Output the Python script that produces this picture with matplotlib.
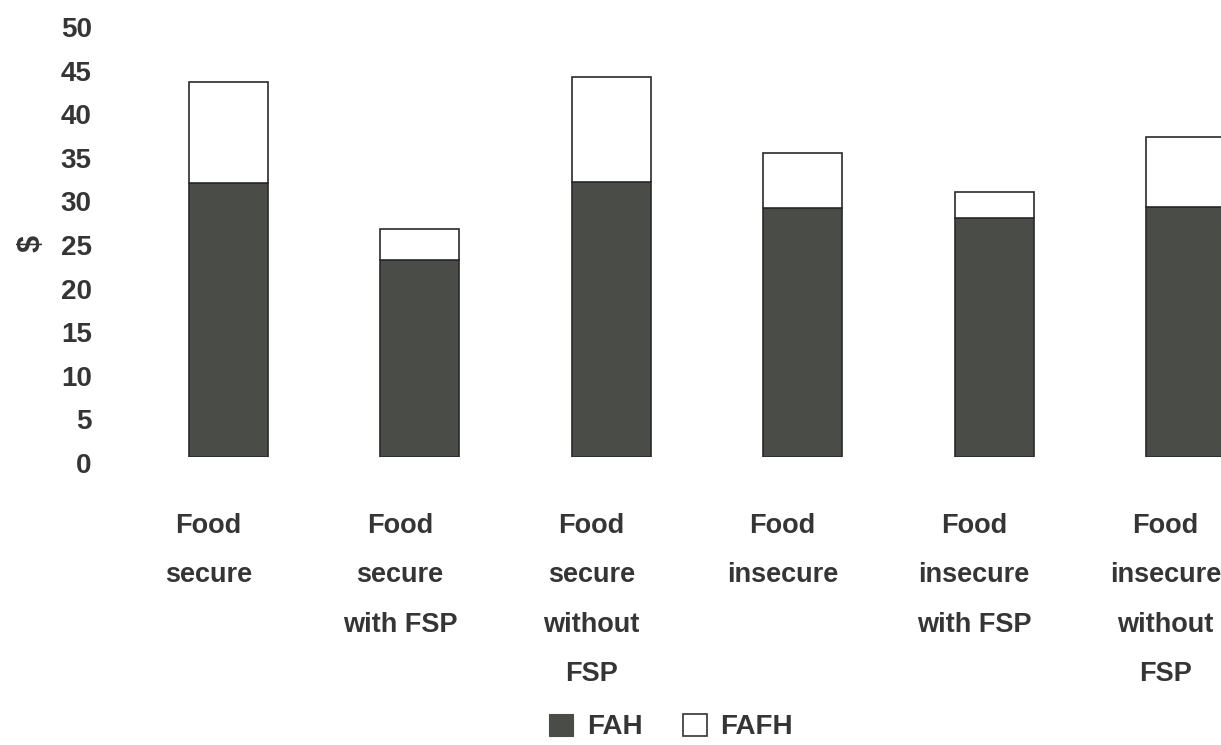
import matplotlib
matplotlib.use("Agg")
import matplotlib.pyplot as plt
from matplotlib.patches import Patch
from matplotlib.transforms import ScaledTranslation
import numpy as np

categories = ["Food\nsecure", "Food\nsecure\nwith FSP", "Food\nsecure\nwithout\nFSP",
              "Food\ninsecure", "Food\ninsecure\nwith FSP", "Food\ninsecure\nwithout\nFSP"]
fah = [31.4, 22.6, 31.5, 28.6, 27.4, 28.7]
fafh = [11.6, 3.5, 12.1, 6.3, 3.0, 8.0]
yticks = [0, 5, 10, 15, 20, 25, 30, 35, 40, 45, 50]

TXT = "#353535"
DARK = "#4a4c47"
FS = 20
plt.rcParams['font.family'] = ['Liberation Sans', 'DejaVu Sans']
plt.rcParams['font.weight'] = 'bold'

W, H = 1221, 745
fig = plt.figure(figsize=(W / 100, H / 100), dpi=100)
left_px, right_px, bottom_px, top_px = 100, 1221, 457, 21
ax = fig.add_axes([left_px / W, 1 - bottom_px / H, (right_px - left_px) / W, (bottom_px - top_px) / H])

x = np.arange(len(categories))
width = 79 / 191.4
ax.bar(x, fah, width, color=DARK, edgecolor="#2a2a2a", linewidth=1.2, label="FAH")
ax.bar(x, fafh, width, bottom=fah, color="white", edgecolor="#2a2a2a", linewidth=1.2, label="FAFH")

ax.set_ylim(0, 50)
ax.set_xlim((left_px - 228.5) / 191.4, (right_px - 228.5) / 191.4)
for s in ax.spines.values():
    s.set_visible(False)

ax.set_yticks(yticks)
ax.set_yticklabels([str(v) for v in yticks], fontsize=FS, fontweight='bold', color=TXT)
ax.tick_params(axis='y', length=0, pad=6)
for lab in ax.get_yticklabels():
    lab.set_transform(lab.get_transform() + ScaledTranslation(0, -0.06, fig.dpi_scale_trans))

ax.set_xticks(x)
ax.set_xticklabels(categories, fontsize=19.5, fontweight='bold', color=TXT, linespacing=2.16)
ax.tick_params(axis='x', length=0, pad=40.5)
for lab in ax.get_xticklabels():
    lab.set_transform(lab.get_transform() + ScaledTranslation(-0.2, 0, fig.dpi_scale_trans))

ax.set_ylabel("$", fontsize=FS + 2, fontweight='bold', color=TXT, rotation=90)
ax.yaxis.set_label_coords((47 - left_px) / (right_px - left_px), (bottom_px - 244) / (bottom_px - top_px))

handles = [Patch(facecolor=DARK, edgecolor=DARK, linewidth=0.8),
           Patch(facecolor="white", edgecolor="#333333", linewidth=1.2)]
leg = fig.legend(handles, ["FAH", "FAFH"], loc="center", bbox_to_anchor=(671 / W, 1 - 727 / H),
                 ncol=2, frameon=False, prop={'size': FS, 'weight': 'bold'},
                 handlelength=0.86, handleheight=0.86, handletextpad=0.5, columnspacing=1.45,
                 borderpad=0, borderaxespad=0)
for t in leg.get_texts():
    t.set_color(TXT)

fig.savefig("out.png", dpi=100)
